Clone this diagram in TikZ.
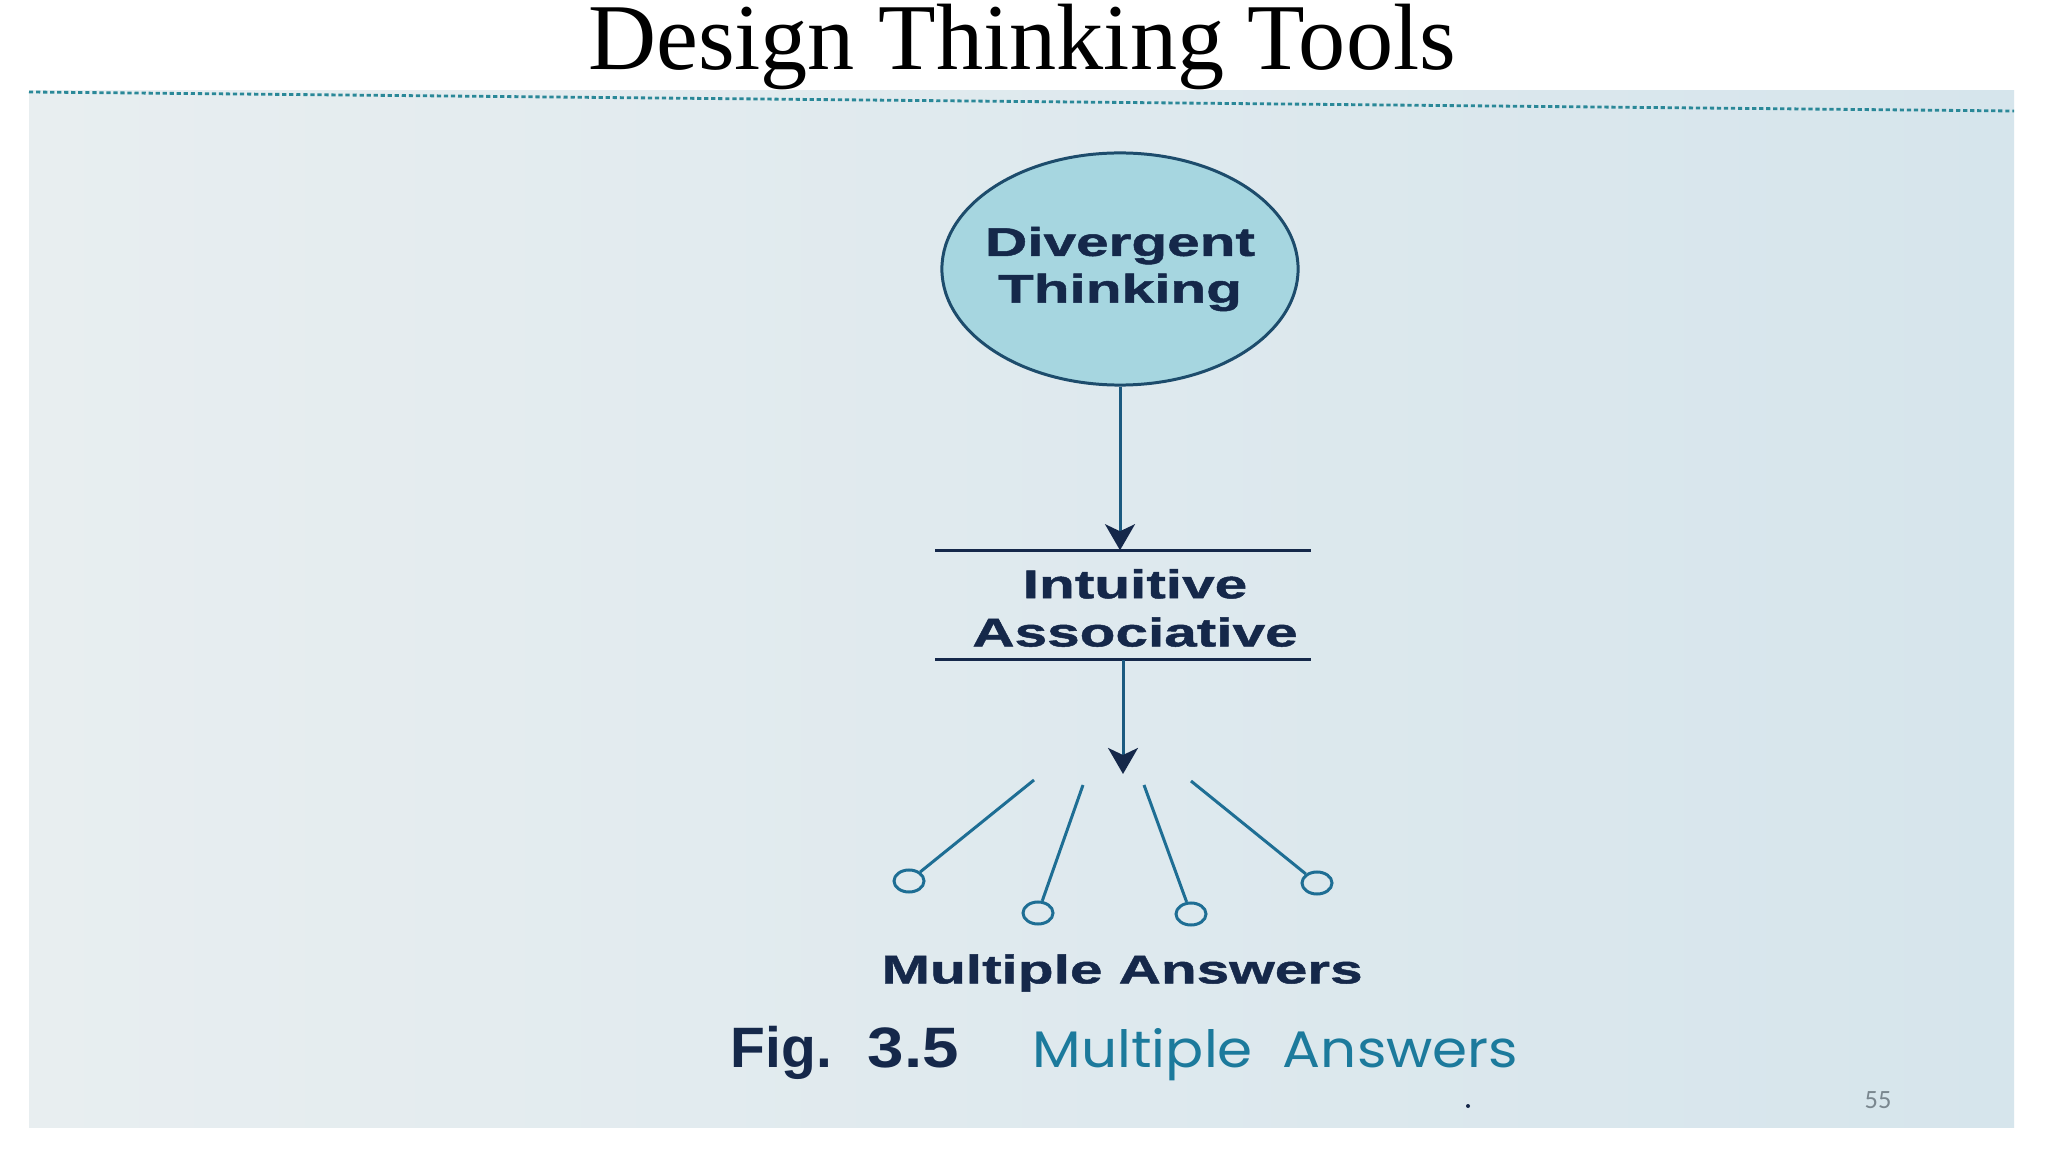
\documentclass[tikz,border=0pt]{standalone}
\usepackage{fontspec}
\setmainfont{Liberation Serif}
\newfontfamily\lblfont[FakeStretch=1.46, BoldFeatures={FakeBold=1.2}]{Liberation Sans}
\newfontfamily\figfont{Liberation Sans}
\newfontfamily\capfont[FakeStretch=1.1]{Poppins}
\newfontfamily\numfont{Carlito}
\usetikzlibrary{shapes.geometric,arrows.meta}
\definecolor{bgleft}{HTML}{E8EEF0}
\definecolor{bgright}{HTML}{D6E5EC}
\definecolor{navy}{HTML}{15284A}
\definecolor{ellfill}{HTML}{A6D6E0}
\definecolor{ellline}{HTML}{1D4C6C}
\definecolor{conn}{HTML}{1B5A80}
\definecolor{fanline}{HTML}{1E6E94}
\definecolor{dotline}{HTML}{2A8898}
\definecolor{captext}{HTML}{1C7A9C}
\definecolor{pagenum}{HTML}{7A878F}
\tikzset{
  lbl/.style={font=\lblfont\bfseries\fontsize{11.4}{13.3}\selectfont, text=navy, align=center},
  bubble/.style={ellipse, draw=ellline, fill=ellfill, line width=0.85pt, minimum width=3.56cm, minimum height=2.32cm, inner xsep=-0.6cm, inner ysep=-0.3cm},
  barbox/.style={minimum width=3.74cm, minimum height=1.08cm, inner sep=0pt},
  barline/.style={draw=navy, line width=0.85pt},
  arr/.style={draw=conn, line width=0.85pt, -{Stealth[length=7.4pt, width=8.5pt, inset=2pt, color=navy]}},
  fan/.style={draw=fanline, line width=0.85pt},
  endc/.style={ellipse, draw=fanline, line width=0.85pt, minimum width=0.30cm, minimum height=0.22cm, inner sep=0pt}
}
\begin{document}
\begin{tikzpicture}[x=0.01cm, y=-0.01cm]
\useasboundingbox (0,0) rectangle (2048,1152);
\fill[white] (0,0) rectangle (2048,1152);
% photo background
\shade[left color=bgleft, right color=bgright] (29,91) rectangle (2014,1127);
% dotted rule
\draw[dotline, line width=0.8pt, dash pattern=on 1.2pt off 0.8pt] (29,92) -- (2014,111);
% title
\node[anchor=base, font=\fontsize{26.8}{30}\selectfont] (title) at (1022,70) {Design Thinking Tools};
% diagram
\node[bubble, lbl] (dt) at (1120,269) {Divergent\\Thinking};
\node[barbox, lbl, font=\lblfont\bfseries\fontsize{11.4}{13.7}\selectfont] (ia) at (1135,608) {Intuitive\\Associative};
\draw[barline] ([shift={(-12,-3)}]ia.north west) -- ([shift={(-12,-3)}]ia.north east);
\draw[barline] ([shift={(-12,-3)}]ia.south west) -- ([shift={(-12,-3)}]ia.south east);
\coordinate (hub) at (1123,774);
\draw[arr] (dt.south) -- ([shift={(0,-3)}]dt.south |- ia.north);
\draw[arr] ([shift={(0,-3)}]hub |- ia.south) -- (hub);
\coordinate (s1) at (1034,780);
\coordinate (s2) at (1083,785);
\coordinate (s3) at (1144,785);
\coordinate (s4) at (1191,781);
\node[endc] (c1) at (909,881) {};
\node[endc] (c2) at (1038,913) {};
\node[endc] (c3) at (1191,914) {};
\node[endc] (c4) at (1317,883) {};
\draw[fan] (s1) -- (c1);
\draw[fan] (s2) -- (c2);
\draw[fan] (s3) -- (c3);
\draw[fan] (s4) -- (c4);
\node[lbl] (ma) at (1122,973) {Multiple Answers};
% caption
\node[anchor=west, inner sep=0pt, text=navy, font=\figfont\bfseries\fontsize{16.2}{18}\selectfont] (fig) at (730,1053) {Fig.\hspace{0.36cm}\scalebox{1.15}[1]{3.5}};
\node[anchor=west, inner sep=0pt, text=captext, font=\capfont\fontsize{14.6}{17}\selectfont] (cap) at (1032,1055) {Multiple\hspace{0.3cm}Answers};
\node[circle, fill=navy, inner sep=0pt, minimum size=0.04cm] (dot) at (1468,1106) {};
\node[text=pagenum, font=\numfont\fontsize{7.5}{8}\selectfont] (pn) at (1878,1100) {55};
\end{tikzpicture}
\end{document}
